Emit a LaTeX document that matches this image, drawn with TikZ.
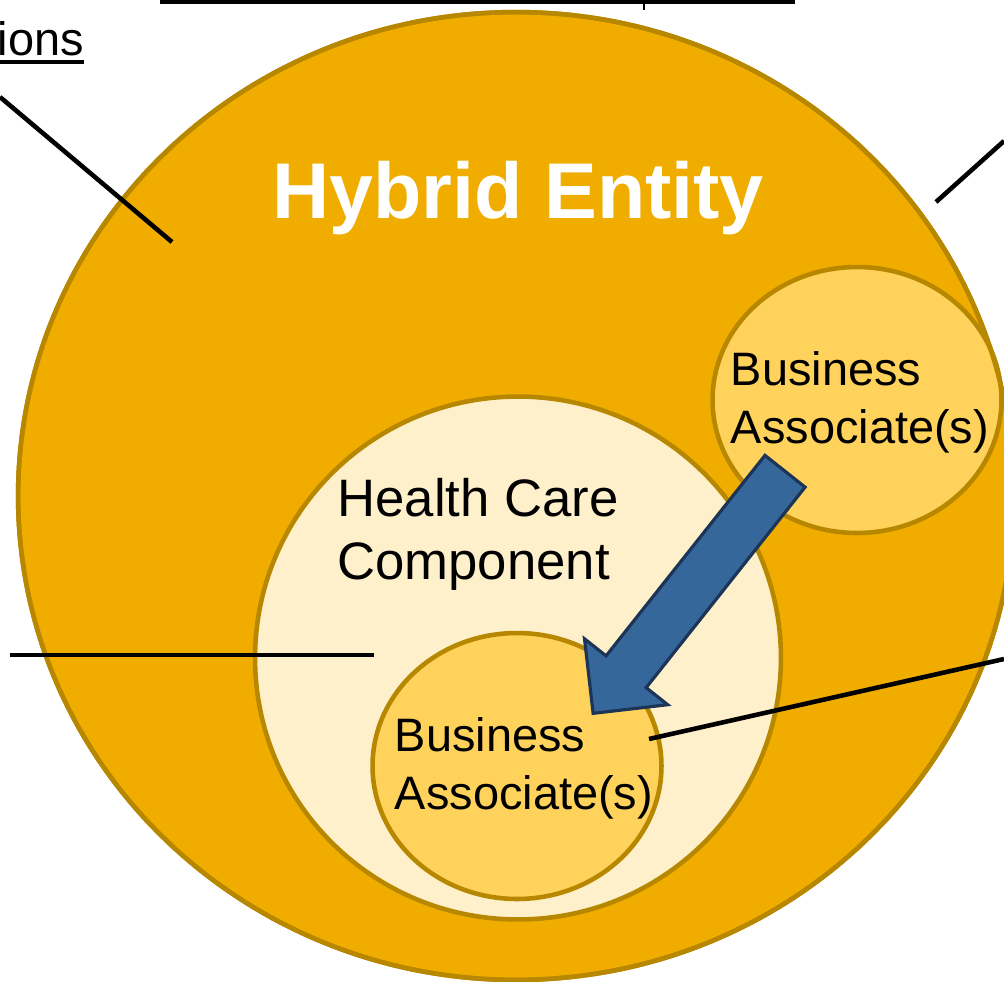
\documentclass[tikz,border=0pt]{standalone}
\usepackage{fontspec}
\setmainfont{Liberation Sans}
\usepackage{xcolor}
\usetikzlibrary{shapes.geometric,shapes.arrows}
\definecolor{hybridfill}{RGB}{240,173,0}
\definecolor{ringedge}{RGB}{184,135,0}
\definecolor{carefill}{RGB}{255,240,204}
\definecolor{assocfill}{RGB}{255,210,92}
\definecolor{arrowfill}{RGB}{53,103,154}
\definecolor{arrowedge}{RGB}{28,53,87}
\tikzset{
  ring/.style={
    ellipse,
    draw=ringedge,
    line width=2.6pt,
    inner sep=0pt
  },
  hybrid/.style={
    ring,
    fill=hybridfill,
    minimum width=19.92cm,
    minimum height=19.36cm
  },
  care/.style={
    ring,
    fill=carefill,
    minimum width=10.52cm,
    minimum height=10.46cm
  },
  assoc/.style={
    ring,
    fill=assocfill,
    minimum width=5.78cm,
    minimum height=5.32cm
  },
  hybridtext/.style={
    inner sep=0pt,
    text=white,
    font=\fontsize{45}{54}\selectfont\bfseries
  },
  caretext/.style={
    inner sep=0pt,
    align=left,
    font=\fontsize{30}{35.7}\selectfont
  },
  assoctext/.style={
    inner sep=0pt,
    align=left,
    font=\fontsize{26.7}{32.9}\selectfont
  },
  handoff/.style={
    single arrow,
    draw=arrowedge,
    fill=arrowfill,
    line width=1.8pt,
    inner xsep=0pt,
    inner ysep=0.48cm,
    minimum height=6.18cm,
    single arrow head extend=0.55cm,
    single arrow tip angle=90,
    single arrow head indent=0pt
  },
  leader/.style={line width=2.6pt, draw=black}
}

\begin{document}
\begin{tikzpicture}[x=0.02cm, y=-0.02cm]
  \useasboundingbox (0,0) rectangle (1004,981);
  \clip (0,0) rectangle (1004,981);

  \node[hybrid] (hybrid) at (516,496) {};
  \node[care] (care) at (518,658) {};
  \node[assoc] (balower) at (517,766) {};
  \node[assoc] (baupper) at (857,400) {};
  \node[ring, minimum width=19.92cm, minimum height=19.36cm] (hybridrim) at (hybrid.center) {};

  \node[hybridtext, anchor=base] (hybridlabel) at (518,218) {Hybrid Entity};
  \node[caretext, anchor=north west] (carelabel) at (337,478) {Health Care\\Component};
  \node[assoctext] (baupperlabel) at (860,402) {Business\\Associate(s)};
  \node[assoctext] (balowerlabel) at (524,768) {Business\\Associate(s)};

  \node[handoff, rotate=231.6, anchor=tail] (handoff) at (786,470) {};

  \node[assoctext, anchor=base east] (ions) at (84,55) {ions};
  \draw[line width=2pt] ([yshift=-4pt]ions.base west) -- ([yshift=-4pt]ions.base east);

  \coordinate (rulel) at (160,2);
  \coordinate (ruler) at (795,2);
  \coordinate (ticktop) at (644,0);
  \coordinate (tickbot) at (644,10);
  \draw[leader] (rulel) -- (ruler);
  \draw[line width=1.4pt] (ticktop) -- (tickbot);

  \coordinate (defsend) at (0,97);
  \coordinate (hybridend) at (172,242);
  \coordinate (otherend) at (1004,141);
  \coordinate (rimend) at (936,202);
  \coordinate (careout) at (10,655);
  \coordinate (careend) at (374,655);
  \coordinate (baout) at (1004,659);
  \coordinate (baend) at (649,739);

  \draw[leader] (defsend) -- (hybridend);
  \draw[leader] (otherend) -- (rimend);
  \draw[leader] (careout) -- (careend);
  \draw[leader] (baout) -- (baend);
\end{tikzpicture}
\end{document}
